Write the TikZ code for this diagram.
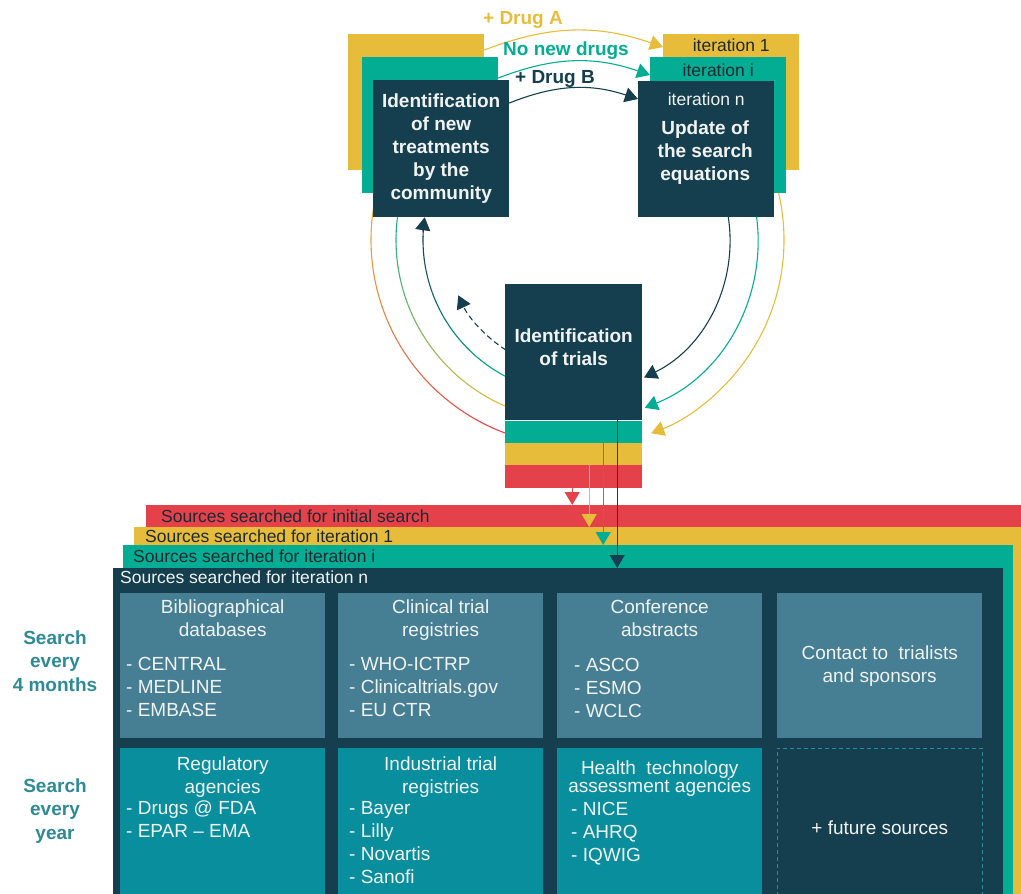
\documentclass[tikz,border=0pt]{standalone}
\usepackage{fontspec}
\setmainfont{Liberation Sans}
\usetikzlibrary{arrows.meta}
\usetikzlibrary{positioning}

\definecolor{navyc}{HTML}{153F4E}
\definecolor{tealc}{HTML}{02AD93}
\definecolor{yellowc}{HTML}{E7BC3A}
\definecolor{redc}{HTML}{E4414A}
\definecolor{steelc}{HTML}{467F94}
\definecolor{cyanc}{HTML}{098E9D}
\definecolor{labelc}{HTML}{2D8A97}
\definecolor{inkc}{HTML}{1E2A31}
\definecolor{paperc}{HTML}{F1F3F3}

\tikzset{
  block/.style = {rectangle, inner sep=0pt, anchor=north west},
  strip/.style = {rectangle, inner sep=0pt, minimum width=137pt},
  flowtext/.style = {inner sep=0pt, text=paperc, align=center, font=\fontsize{19}{23}\selectfont\bfseries},
  itertext/.style = {inner sep=0pt, font=\fontsize{17.5}{21}\selectfont},
  srctext/.style = {inner sep=0pt, anchor=west, font=\fontsize{17.5}{21}\selectfont},
  boxhead/.style = {inner sep=0pt, anchor=north, align=center, text=paperc, font=\fontsize{19}{23}\selectfont},
  boxitems/.style = {inner sep=0pt, anchor=north west, align=left, text=paperc, font=\fontsize{19}{23}\selectfont},
  searchtext/.style = {inner sep=0pt, align=center, text=labelc, font=\fontsize{19}{23.5}\selectfont\bfseries},
  druglabel/.style = {inner sep=0pt, font=\fontsize{19}{23}\selectfont\bfseries},
  loopline/.style = {line width=1.1pt, line cap=round},
  headarrow/.style = {-{Triangle[width=15pt,length=13pt]}}
}

% arc round (hub), coloured from #5 to #6
\newcommand{\gradarc}[6]{%
  \foreach \k in {0,...,23}{%
    \pgfmathsetmacro{\angA}{#3+(#4-#3)*\k/24}%
    \pgfmathsetmacro{\angB}{#3+(#4-#3)*(\k+1)/24}%
    \pgfmathsetmacro{\mixpct}{100-100*\k/23}%
    \draw[loopline, draw=#5!\mixpct!#6] (#1) ++(\angA:#2) arc[start angle=\angA, end angle=\angB, radius=#2];
  }}

\begin{document}
\begin{tikzpicture}[x=1pt, y=-1pt]
\useasboundingbox (0,0) rectangle (1021,894);
\coordinate (hub) at (577,240);

% loops back to the community
\gradarc{hub}{206}{110.5}{200}{redc}{yellowc}
\gradarc{hub}{181}{113.5}{195}{yellowc}{tealc}
\gradarc{hub}{154}{117.7}{184}{tealc}{navyc}
\draw[loopline, navyc, headarrow] (hub) ++(183:154) arc[start angle=183, end angle=188.5, radius=154];
\draw[loopline, navyc, dash pattern=on 5pt off 4pt, headarrow] (hub) ++(123:131) arc[start angle=123, end angle=155, radius=131];

% loops down to the trials
\draw[loopline, navyc, headarrow] (hub) ++(-15:153) arc[start angle=-15, end angle=64, radius=153];
\draw[loopline, tealc, headarrow] (hub) ++(-20:181) arc[start angle=-20, end angle=68, radius=181];
\draw[loopline, yellowc, headarrow] (hub) ++(-25:207) arc[start angle=-25, end angle=69, radius=207];

% community
\node[block, fill=yellowc, minimum width=136pt, minimum height=136pt] (leftY) at (348,34) {};
\node[block, fill=tealc, minimum width=136pt, minimum height=136pt] (leftT) at (362,57) {};
\node[block, fill=navyc, minimum width=136pt, minimum height=137pt] (leftN) at (373,80) {};
\node[flowtext] at (leftN.center) {Identification\\of new\\treatments\\by the\\community};

% search equations
\node[block, fill=yellowc, minimum width=136pt, minimum height=136pt] (rightY) at (663,34) {};
\node[block, fill=tealc, minimum width=136pt, minimum height=136pt] (rightT) at (650,57) {};
\node[block, fill=navyc, minimum width=136pt, minimum height=136pt] (rightN) at (638,81) {};
\node[itertext, text=inkc, below=4.5pt of rightY.north] {iteration 1};
\node[itertext, text=inkc, below=6.5pt of rightT.north] {iteration i};
\node[itertext, text=paperc, below=11.5pt of rightN.north] {iteration n};
\node[flowtext, below=40pt of rightN.north, xshift=-1pt] {Update of\\the search\\equations};

% trials
\node[block, fill=navyc, minimum width=137pt, minimum height=136pt] (trials) at (505,284) {};
\node[flowtext] at ([yshift=5pt]trials.center) {Identification\\of trials};
\node[strip, fill=tealc, minimum height=22pt, below=0pt of trials] (tealS) {};
\node[strip, fill=yellowc, minimum height=22pt, below=0pt of tealS] (yellowS) {};
\node[strip, fill=redc, minimum height=23pt, below=0pt of yellowS] (redS) {};

% sources
\node[block, fill=redc, minimum width=875pt, minimum height=389pt] (redP) at (146,505) {};
\node[block, fill=yellowc, minimum width=887pt, minimum height=367pt] (yellowP) at (134,527) {};
\node[block, fill=tealc, minimum width=890pt, minimum height=349pt] (tealP) at (123,545) {};
\node[block, fill=navyc, minimum width=890pt, minimum height=326pt] (navyP) at (113,568) {};
\node[srctext, text=inkc] at (161,516) {Sources searched for initial search};
\node[srctext, text=inkc] at (145,536.5) {Sources searched for iteration 1};
\node[srctext, text=inkc] at (133,556) {Sources searched for iteration i};
\node[srctext, text=paperc] at (120,577) {Sources searched for iteration n};

\foreach \col/\x in {1/120, 2/338, 3/557, 4/777}
  \node[block, fill=steelc, minimum width=205pt, minimum height=145pt] (top\col) at (\x,593) {};
\foreach \col/\x in {1/120, 2/338, 3/557}
  \node[block, fill=cyanc, minimum width=205pt, minimum height=146pt] (low\col) at (\x,748) {};
\node[block, draw=labelc, dash pattern=on 4pt off 3pt, line width=0.6pt, minimum width=205pt, minimum height=146pt] (low4) at (777,748) {};

\node[boxhead, below=7pt of top1.north] {Bibliographical\\databases};
\node[boxitems, below right=64pt and 6pt of top1.north west] {- CENTRAL\\- MEDLINE\\- EMBASE};
\node[boxhead, below=7pt of top2.north] {Clinical trial\\registries};
\node[boxitems, below right=64pt and 11pt of top2.north west] {- WHO-ICTRP\\- Clinicaltrials.gov\\- EU CTR};
\node[boxhead, below=7pt of top3.north] {Conference\\abstracts};
\node[boxitems, below right=65pt and 17pt of top3.north west] {- ASCO\\- ESMO\\- WCLC};
\node[boxhead, anchor=center] at (top4.center) {Contact to~ trialists\\and sponsors};

\node[boxhead, below=9pt of low1.north] {Regulatory\\agencies};
\node[boxitems, below right=53pt and 6pt of low1.north west] {- Drugs @ FDA\\- EPAR -- EMA};
\node[boxhead, below=9pt of low2.north] {Industrial trial\\registries};
\node[boxitems, below right=53pt and 11pt of low2.north west] {- Bayer\\- Lilly\\- Novartis\\- Sanofi};
\node[boxhead, font=\fontsize{19}{18}\selectfont, below=13pt of low3.north] {Health~ technology\\assessment agencies};
\node[boxitems, below right=54pt and 14pt of low3.north west] {- NICE\\- AHRQ\\- IQWIG};
\node[boxhead, anchor=center] at ([yshift=-6pt]low4.center) {+ future sources};

\node[searchtext] at (55,661) {Search\\every\\4 months};
\node[searchtext] at (55,811) {Search\\every\\year};

% new drugs
\draw[loopline, yellowc, headarrow] ([yshift=-16pt]leftY.north east) to[bend left=20] ([yshift=-13pt]rightY.north west);
\draw[loopline, tealc, headarrow] ([yshift=-21pt]leftT.north east) to[bend left=20] ([yshift=-18pt]rightT.north west);
\draw[loopline, navyc, headarrow] ([yshift=-23pt]leftN.north east) to[bend left=20] ([yshift=-18pt]rightN.north west);
\node[druglabel, text=yellowc] at (523,20) {+ Drug A};
\node[druglabel, text=tealc] at (566,51) {No new drugs};
\node[druglabel, text=navyc] at (555,79) {+ Drug B};

% drops into the sources
\coordinate (navyDrop) at ([xshift=43.5pt]trials.south);
\coordinate (tealDrop) at ([xshift=29.5pt]tealS.south);
\coordinate (yellowDrop) at ([xshift=15.5pt]yellowS.south);
\coordinate (redDrop) at ([xshift=-1.5pt]redS.south);
\draw[loopline, navyc, headarrow] (navyDrop) -- (navyDrop |- navyP.north);
\draw[loopline, tealc, headarrow] (tealDrop) -- (tealDrop |- tealP.north);
\draw[loopline, yellowc, headarrow] (yellowDrop) -- (yellowDrop |- yellowP.north);
\draw[loopline, redc, headarrow] (redDrop) -- (redDrop |- redP.north);
\end{tikzpicture}
\end{document}
